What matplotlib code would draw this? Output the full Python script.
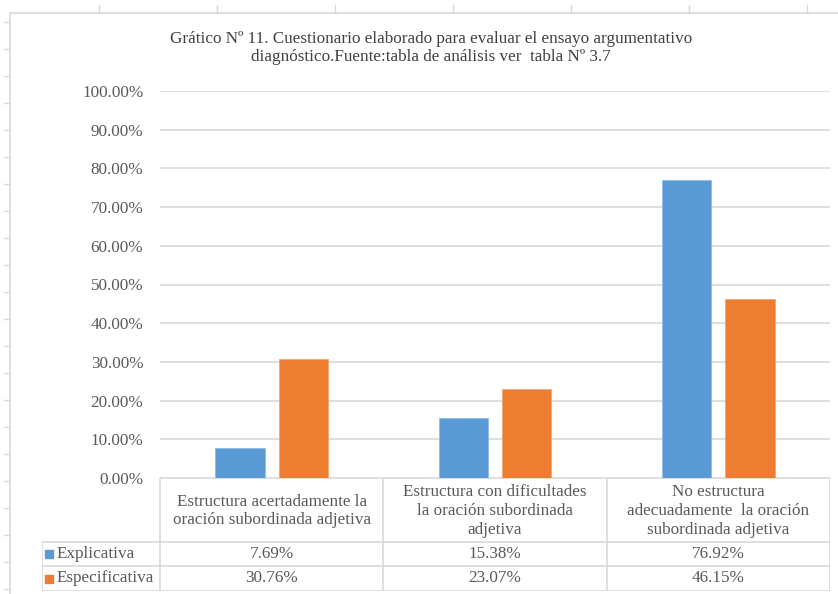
import matplotlib.pyplot as plt
import numpy as np

# data
categorias = ['Estructura acertadamente la\noración subordinada adjetiva',
              'Estructura con dificultades\nla oración subordinada\nadjetiva',
              'No estructura\nadecuadamente  la oración\nsubordinada adjetiva']
explicativa = [7.69, 15.38, 76.92]
especificativa = [30.76, 23.07, 46.15]
series = ['Explicativa', 'Especificativa']
colores = ['#5B9BD5', '#ED7D31']
titulo = ('Grático Nº 11. Cuestionario elaborado para evaluar el ensayo argumentativo\n'
          'diagnóstico.Fuente:tabla de análisis ver  tabla Nº 3.7')

plt.rcParams['font.family'] = 'serif'
plt.rcParams['font.serif'] = ['Liberation Serif', 'DejaVu Serif']
W, H = 838, 594
fig = plt.figure(figsize=(W / 100, H / 100), dpi=100)

def box(x0, y0, x1, y1):
    # pixel box (top-left origin) -> figure fraction rect
    return [x0 / W, 1 - y1 / H, (x1 - x0) / W, (y1 - y0) / H]

grid_c = '#D9D9D9'
text_c = '#595959'
fs = 12.3

# spreadsheet background marks + chart frame
bg = fig.add_axes([0, 0, 1, 1])
bg.set_xlim(0, W)
bg.set_ylim(H, 0)
bg.axis('off')
for x in np.arange(99, W, 118):
    bg.plot([x, x], [5, 13], color=grid_c, lw=1)
for y in np.arange(22, H, 27):
    bg.plot([4, 10], [y, y], color=grid_c, lw=1)
bg.plot([10, 10, W + 5], [H + 5, 13, 13], color=grid_c, lw=1.2)

fig.text(431 / W, 1 - 48 / H, titulo, ha='center', va='center',
         fontsize=fs, color='#404040', linespacing=1.2)

# bar chart
ax = fig.add_axes(box(160, 91, 830, 478))
x = np.arange(len(categorias))
w = 0.22
ax.bar(x - 0.142, np.array(explicativa) / 100, w, color=colores[0],
       edgecolor='#8DBCE6', linewidth=0.6, zorder=3)
ax.bar(x + 0.142, np.array(especificativa) / 100, w, color=colores[1],
       edgecolor='#F4A574', linewidth=0.6, zorder=3)
ax.set_xlim(-0.5, len(categorias) - 0.5)
ax.set_ylim(0, 1)
ax.set_yticks(np.arange(0, 1.01, 0.1))
ax.set_yticklabels([f'{v * 100:.2f}%' for v in np.arange(0, 1.01, 0.1)],
                   fontsize=fs, color=text_c)
ax.tick_params(axis='y', length=0, pad=12)
ax.set_xticks([])
ax.yaxis.grid(True, color=grid_c, lw=1.2)
for s in ax.spines.values():
    s.set_visible(False)

# data table under the plot
leg_w = (160 - 42) / (670 / 3)
tb = fig.add_axes(box(42, 478, 830, 591))
tb.set_xlim(-0.5 - leg_w, len(categorias) - 0.5)
tb.set_ylim(113, 0)
tb.axis('off')
rows = [0, 64, 88, 113]
lc = dict(color=grid_c, lw=1.2)
tb.plot([-0.5, -0.5], [0, rows[-1]], **lc)
for i in range(len(categorias)):
    tb.plot([i + 0.5, i + 0.5], [0, rows[-1]], **lc)
tb.plot([-0.5, len(categorias) - 0.5], [0, 0], **lc)
tb.plot([-0.5 - leg_w, -0.5 - leg_w], [rows[1], rows[-1]], **lc)
for r in rows[1:]:
    tb.plot([-0.5 - leg_w, len(categorias) - 0.5], [r, r], **lc)

for i, c in enumerate(categorias):
    tb.text(i, rows[1] / 2 + 1, c, ha='center', va='center', fontsize=fs,
            color=text_c, linespacing=1.25)
for k, (nombre, vals) in enumerate(zip(series, [explicativa, especificativa])):
    yc = (rows[k + 1] + rows[k + 2]) / 2
    tb.scatter([-0.5 - leg_w + 0.03], [yc], marker='s', s=40, color=colores[k])
    tb.text(-0.5 - leg_w + 0.065, yc, nombre, ha='left', va='center',
            fontsize=fs, color=text_c)
    for i, v in enumerate(vals):
        tb.text(i, yc, f'{v:.2f}%', ha='center', va='center', fontsize=fs,
                color=text_c)

fig.savefig('out.png', dpi=100)
